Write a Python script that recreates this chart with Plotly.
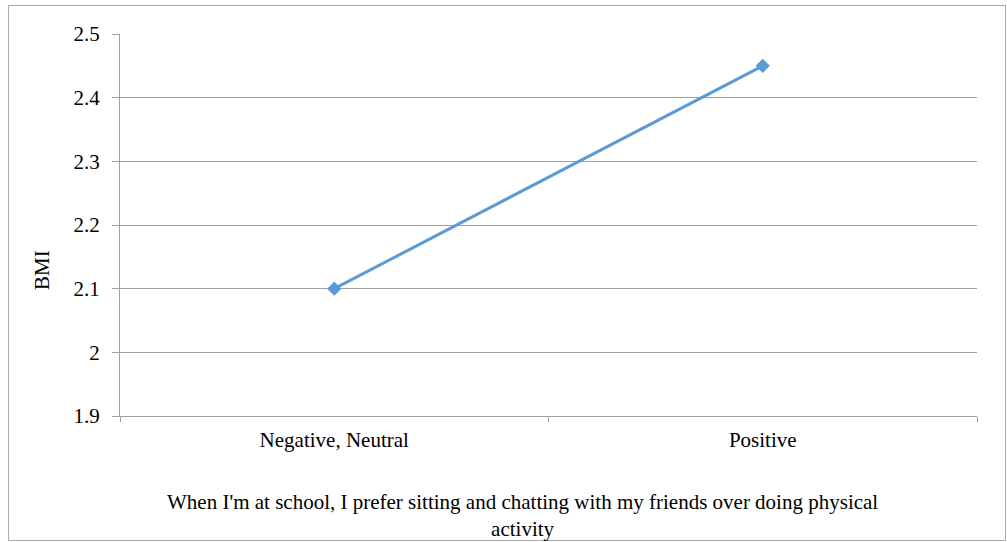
import plotly.graph_objects as go

categories = ["Negative, Neutral", "Positive"]
bmi_values = [2.1, 2.45]
y_ticks = [1.9, 2.0, 2.1, 2.2, 2.3, 2.4, 2.5]

W, H = 1007, 542
L, R, T, B = 120, 30, 34, 126
pw, ph = W - L - R, H - T - B

def px_x(x):
    return (x - L) / pw

def px_y(y):
    return (H - B - y) / ph

font_family = "Liberation Serif"
grid_col = "#a0a0a0"
fs = 21

fig = go.Figure()
fig.add_trace(go.Scatter(
    x=categories, y=bmi_values, mode="lines+markers",
    line=dict(color="#5b9bd5", width=3),
    marker=dict(symbol="diamond", size=11, color="#5b9bd5"),
    showlegend=False, cliponaxis=False,
))

fig.update_layout(
    width=W, height=H,
    margin=dict(l=L, r=R, t=T, b=B),
    paper_bgcolor="white", plot_bgcolor="white",
    font=dict(family=font_family, size=fs, color="black"),
    xaxis=dict(
        type="category", range=[-0.5, 1.5],
        showgrid=False, showline=True, linecolor=grid_col, linewidth=1,
        ticks="outside", tickson="boundaries", ticklen=5, tickcolor=grid_col,
        tickfont=dict(family=font_family, size=fs, color="black"),
        ticklabelstandoff=5,
    ),
    yaxis=dict(
        range=[1.9, 2.5], tickvals=y_ticks,
        ticktext=[f"{v:g}" for v in y_ticks],
        showgrid=True, gridcolor=grid_col, gridwidth=1,
        showline=True, linecolor=grid_col, linewidth=1,
        ticks="outside", ticklen=7, tickcolor=grid_col,
        tickfont=dict(family=font_family, size=fs, color="black"),
        ticklabelstandoff=8, zeroline=False,
    ),
    shapes=[dict(
        type="rect", xref="paper", yref="paper",
        x0=px_x(8.5), x1=px_x(1005.5), y0=px_y(540.5), y1=px_y(5.5),
        line=dict(color="#a8a8a8", width=1), fillcolor="rgba(0,0,0,0)",
        layer="below",
    )],
    annotations=[
        dict(
            text="BMI", textangle=-90, xref="paper", yref="paper",
            x=px_x(42), y=px_y(270), showarrow=False,
            font=dict(family=font_family, size=fs, color="black"),
            xanchor="center", yanchor="middle",
        ),
        dict(
            text="When I'm at school, I prefer sitting and chatting with my friends over doing physical<br>activity",
            xref="paper", yref="paper", x=px_x(522), y=px_y(515),
            showarrow=False, font=dict(family=font_family, size=fs, color="black"),
            xanchor="center", yanchor="middle",
        ),
    ],
)

fig.write_html("out.html")
